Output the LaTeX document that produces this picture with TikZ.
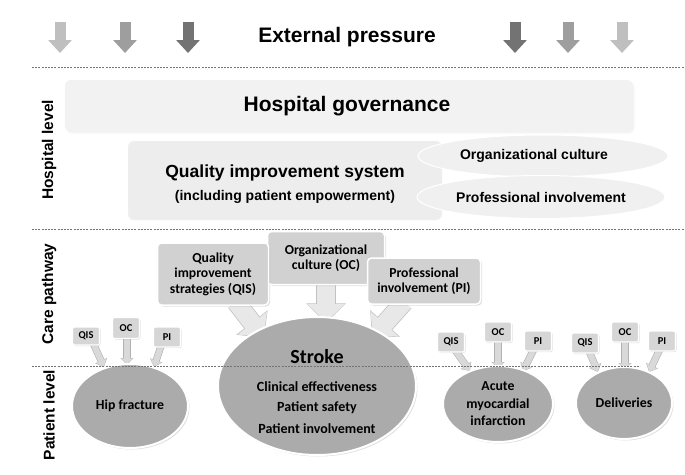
\documentclass[tikz,border=0pt]{standalone}
\usepackage{fontspec}
\setmainfont{Liberation Sans}
\newfontfamily\calfont{Carlito}
\usetikzlibrary{arrows.meta,shadows,shapes.geometric}
\begin{document}
\begin{tikzpicture}[x=1pt,y=-1pt,
 dline/.style={black!55, line width=0.6pt, dash pattern=on 2pt off 1.2pt},
 toparr/.style={line width=11pt, -{Triangle[width=23pt,length=13pt]}},
 lvl/.style={font=\bfseries\fontsize{15.5}{17}\selectfont, rotate=90},
 hbox/.style={rounded corners=6pt, fill=black!5, draw=black!4},
 hell/.style={ellipse, fill=black!6, draw=white, line width=1pt, inner sep=0pt},
 htext/.style={font=\bfseries\fontsize{14}{16}\selectfont},
 cbox/.style={rounded corners=4pt, fill=black!18, draw=white, line width=1.5pt,
   drop shadow={opacity=0.25, shadow xshift=1.5pt, shadow yshift=-1.5pt},
   font=\calfont\bfseries\fontsize{13.7}{15.5}\selectfont, align=center, inner sep=2pt},
 sbox/.style={rounded corners=2pt, fill=black!16, draw=white, line width=1.2pt,
   drop shadow={opacity=0.25, shadow xshift=1pt, shadow yshift=-1pt},
   font=\calfont\bfseries\fontsize{10.5}{12}\selectfont, minimum width=27pt, minimum height=20pt, inner sep=0pt},
 pell/.style={ellipse, fill=black!33, draw=white, line width=2pt,
   drop shadow={opacity=0.25, shadow xshift=1.5pt, shadow yshift=-1.5pt}, inner sep=0pt},
 etext/.style={font=\calfont\bfseries\fontsize{13.8}{17}\selectfont, align=center},
 bigout/.style={black!24, line width=19.6pt, -{Triangle[width=38.5pt,length=19.6pt]}},
 bigin/.style={black!9, line width=18pt, -{Triangle[width=36pt,length=18pt]}, shorten >=0.9pt},
 smout/.style={black!30, line width=7.2pt, -{Triangle[width=12.6pt,length=7pt]}},
 smin/.style={black!15, line width=6pt, -{Triangle[width=11pt,length=6pt]}, shorten >=0.6pt},
]
\useasboundingbox (0,0) rectangle (685,474);

% top arrows
\coordinate (t1a) at (60,22);  \coordinate (t1b) at (60,53);
\coordinate (t2a) at (125,22); \coordinate (t2b) at (125,53);
\coordinate (t3a) at (188,22); \coordinate (t3b) at (188,53);
\coordinate (t4a) at (515,22); \coordinate (t4b) at (515,53);
\coordinate (t5a) at (568,22); \coordinate (t5b) at (568,53);
\coordinate (t6a) at (622,22); \coordinate (t6b) at (622,53);
\draw[toparr, black!25] (t1a) -- (t1b);
\draw[toparr, black!38] (t2a) -- (t2b);
\draw[toparr, black!55] (t3a) -- (t3b);
\draw[toparr, black!55] (t4a) -- (t4b);
\draw[toparr, black!38] (t5a) -- (t5b);
\draw[toparr, black!25] (t6a) -- (t6b);
\node[font=\bfseries\fontsize{21}{24}\selectfont] (ext) at (347,37) {External pressure};

% dashed separators
\coordinate (d1a) at (32,67);  \coordinate (d1b) at (685,67);
\coordinate (d2a) at (32,229); \coordinate (d2b) at (685,229);
\coordinate (d3a) at (32,366); \coordinate (d3b) at (640,366);
\draw[dline] (d1a) -- (d1b);
\draw[dline] (d2a) -- (d2b);

% level labels
\node[lvl] (lh) at (49,150) {Hospital level};
\node[lvl] (lc) at (49,294) {Care pathway};
\node[lvl] (lp) at (49,415) {Patient level};

% hospital level
\draw[hbox, drop shadow={opacity=0.08, shadow xshift=1.5pt, shadow yshift=-1.5pt}] (65,80) rectangle (633,132);
\node[font=\bfseries\fontsize{21}{24}\selectfont] (gov) at (347,106) {Hospital governance};
\draw[hbox, fill=black!7] (128,141) rectangle (442,220);
\node[font=\bfseries\fontsize{17.5}{20}\selectfont] (qsys) at (285,173) {Quality improvement system};
\node[font=\bfseries\fontsize{14}{16}\selectfont] (qsys2) at (285,197) {(including patient empowerment)};
\node[hell, minimum width=250pt, minimum height=42pt] (oce) at (543,156) {};
\node[htext] at (534,156) {Organizational culture};
\node[hell, minimum width=248pt, minimum height=43pt] (pie) at (541,197) {};
\node[htext] at (pie) {Professional involvement};

% care pathway arrows
\coordinate (a1s) at (236,302); \coordinate (a1e) at (264,338);
\coordinate (a2s) at (326,280); \coordinate (a2e) at (326,323);
\coordinate (a3s) at (404,302); \coordinate (a3e) at (372,338);
\foreach \s/\e in {a1s/a1e, a2s/a2e, a3s/a3e} {
  \draw[bigout] (\s) -- (\e);
  \draw[bigin] (\s) -- (\e);
}

% care pathway boxes
\node[cbox, minimum width=117pt, minimum height=53pt] (ocb) at (326,258) {Organizational\\culture (OC)};
\node[cbox, minimum width=111pt, minimum height=62pt] (qisb) at (213,274) {Quality\\improvement\\strategies (QIS)};
\node[cbox, minimum width=113pt, minimum height=46pt] (pib) at (424,281) {Professional\\involvement (PI)};

% small arrows
\coordinate (h1s) at (93,343);  \coordinate (h1e) at (104,367);
\coordinate (h2s) at (127,337); \coordinate (h2e) at (127,365);
\coordinate (h3s) at (162,343); \coordinate (h3e) at (154,367);
\coordinate (m1s) at (455,350); \coordinate (m1e) at (470,371);
\coordinate (m2s) at (498,340); \coordinate (m2e) at (498,369);
\coordinate (m3s) at (534,349); \coordinate (m3e) at (523,371);
\coordinate (v1s) at (589,351); \coordinate (v1e) at (598,372);
\coordinate (v2s) at (625,340); \coordinate (v2e) at (625,370);
\coordinate (v3s) at (660,349); \coordinate (v3e) at (649,372);
\foreach \s/\e in {h1s/h1e, h2s/h2e, h3s/h3e, m1s/m1e, m2s/m2e, m3s/m3e, v1s/v1e, v2s/v2e, v3s/v3e} {
  \draw[smout] (\s) -- (\e);
  \draw[smin] (\s) -- (\e);
}

% small boxes
\node[sbox, minimum height=18pt] (hq) at (86,336) {QIS};
\node[sbox, minimum height=21pt] (ho) at (126,328) {OC};
\node[sbox] (hp) at (167,337) {PI};
\node[sbox] (aq) at (451,342) {QIS};
\node[sbox] (ao) at (498,332) {OC};
\node[sbox] (ap) at (538,341) {PI};
\node[sbox] (dq) at (585,343) {QIS};
\node[sbox] (do) at (625,332) {OC};
\node[sbox] (dp) at (662,341) {PI};

% patient level ellipses
\node[pell, minimum width=198pt, minimum height=138pt] (stroke) at (317,386) {};
\node[font=\calfont\bfseries\fontsize{20}{22}\selectfont] (st) at (317,357) {Stroke};
\node[etext, font=\calfont\bfseries\fontsize{14}{17}\selectfont] (s1) at (317,387) {Clinical effectiveness};
\node[etext, font=\calfont\bfseries\fontsize{14}{17}\selectfont] (s2) at (317,408) {Patient safety};
\node[etext, font=\calfont\bfseries\fontsize{14}{17}\selectfont] (s3) at (317,429) {Patient involvement};
\node[pell, minimum width=116pt, minimum height=84pt] (hip) at (130,406) {};
\node[etext] at (hip) {Hip fracture};
\node[pell, minimum width=110pt, minimum height=76pt] (ami) at (498,404) {};
\node[etext, font=\calfont\bfseries\fontsize{13.8}{17.5}\selectfont] at (ami) {Acute\\myocardial\\infarction};
\node[pell, minimum width=96pt, minimum height=72pt] (del) at (624,403) {};
\node[etext] at (del) {Deliveries};

\draw[dline] (d3a) -- (d3b);
\end{tikzpicture}
\end{document}
